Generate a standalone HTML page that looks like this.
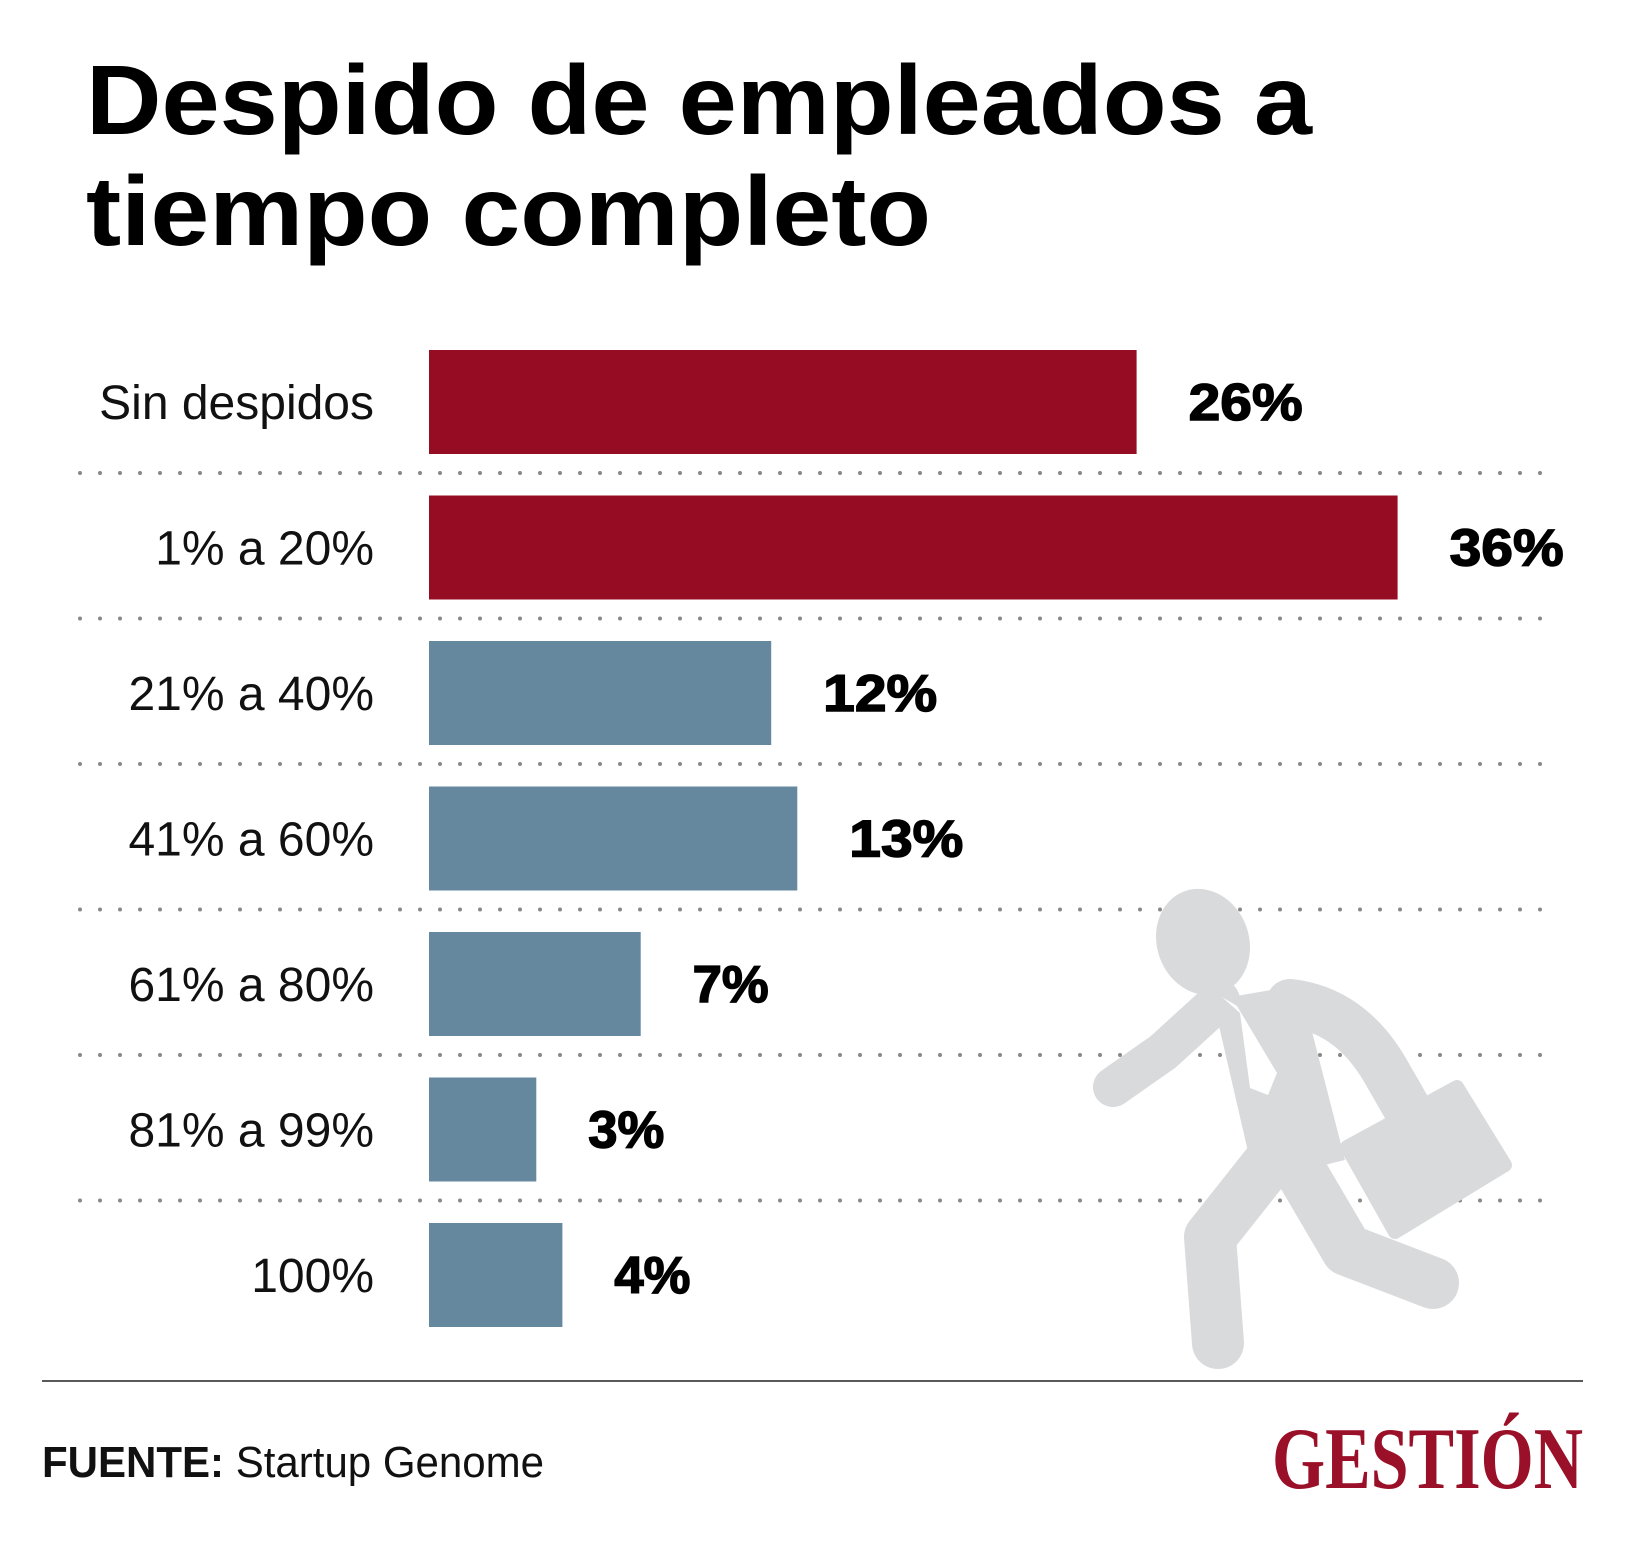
<!DOCTYPE html>
<html><head><meta charset="utf-8"><style>
html,body{margin:0;padding:0;background:#fff;}
svg{display:block;}
</style></head><body>
<svg id="chart" width="1628" height="1557" viewBox="0 0 1628 1557" xmlns="http://www.w3.org/2000/svg" font-family="Liberation Sans, sans-serif">
<rect width="1628" height="1557" fill="#fff"/>
<g font-weight="bold" font-size="98" fill="#000">
<text x="86" y="134" textLength="1226" lengthAdjust="spacingAndGlyphs">Despido de empleados a</text>
<text x="86" y="245" textLength="845" lengthAdjust="spacingAndGlyphs">tiempo completo</text>
</g>
<g id="gridlines"></g>
<g id="figure" fill="#d9dadc">
<ellipse cx="1203" cy="942" rx="46" ry="54" transform="rotate(-20 1203 942)"/>
<polyline points="1220,1000 1163,1052 1113,1087" fill="none" stroke="#d9dadc" stroke-width="40" stroke-linecap="round" stroke-linejoin="round"/>
<polygon points="1213,1000 1300,985 1345,1160 1255,1182"/>
<path d="M1290,1003 Q1350,1010 1385,1070 L1408,1110" fill="none" stroke="#d9dadc" stroke-width="48" stroke-linecap="round"/>
<polyline points="1267,1165 1210,1237 1218,1343" fill="none" stroke="#d9dadc" stroke-width="52" stroke-linecap="round" stroke-linejoin="round"/>
<polyline points="1300,1170 1347,1250 1433,1283" fill="none" stroke="#d9dadc" stroke-width="52" stroke-linecap="round" stroke-linejoin="round"/>
<polygon points="1347,1147 1457,1087 1505,1165 1395,1232" stroke="#d9dadc" stroke-width="14" stroke-linejoin="round"/>
<rect x="1390" y="1092" width="30" height="22" rx="6" transform="rotate(-30 1405 1103)"/>
<polygon points="1222,997 1237,1006 1277,1073 1268,1095 1250,1088 1240,1013" fill="#fff"/>
</g>
<g id="bars"></g>
<line x1="42" y1="1381" x2="1583" y2="1381" stroke="#222" stroke-width="1.5"/>
<text x="42" y="1477" font-size="44" fill="#111" textLength="502" lengthAdjust="spacingAndGlyphs"><tspan font-weight="bold">FUENTE:</tspan> Startup Genome</text>
<text x="1272" y="1488" font-family="Liberation Serif, serif" font-weight="bold" font-size="88" fill="#9a1028" textLength="311" lengthAdjust="spacingAndGlyphs">GESTIÓN</text>
</svg>
<script>
const categories = ["Sin despidos","1% a 20%","21% a 40%","41% a 60%","61% a 80%","81% a 99%","100%"];
const values = [26,36,12,13,7,3,4];
const valueLabels = ["26%","36%","12%","13%","7%","3%","4%"];
const highlight = [true,true,false,false,false,false,false];

const NS = "http://www.w3.org/2000/svg";
const x0 = 429, base = 29, perUnit = 26.1;
const xScale = v => base + perUnit * v;
const rowTop = i => 350 + 145.5 * i;
const barH = 104;
const bars = document.getElementById('bars');
const grid = document.getElementById('gridlines');

for (let i = 0; i < categories.length; i++) {
  const y = rowTop(i);
  const w = xScale(values[i]);
  const r = document.createElementNS(NS, 'rect');
  r.setAttribute('x', x0); r.setAttribute('y', y);
  r.setAttribute('width', w); r.setAttribute('height', barH);
  r.setAttribute('fill', highlight[i] ? '#960d23' : '#65889f');
  
  
  bars.appendChild(r);

  const lab = document.createElementNS(NS, 'text');
  lab.setAttribute('x', 374); lab.setAttribute('y', y + barH / 2 + 17);
  lab.setAttribute('text-anchor', 'end'); lab.setAttribute('font-size', '48');
  lab.setAttribute('fill', '#111');
  lab.textContent = categories[i];
  
  
  bars.appendChild(lab);

  const vl = document.createElementNS(NS, 'text');
  vl.setAttribute('x', x0 + w + 52); vl.setAttribute('y', y + barH / 2 + 18);
  vl.setAttribute('font-size', '52'); vl.setAttribute('font-weight', 'bold');
  vl.setAttribute('fill', '#000');
  vl.setAttribute('stroke', '#000'); vl.setAttribute('stroke-width', '1.5');
  vl.setAttribute('textLength', 38 * valueLabels[i].length);
  vl.setAttribute('lengthAdjust', 'spacingAndGlyphs');
  vl.textContent = valueLabels[i];
  
  
  bars.appendChild(vl);

  if (i < categories.length - 1) {
    const l = document.createElementNS(NS, 'line');
    const ly = y + barH + 19;
    l.setAttribute('x1', 80); l.setAttribute('x2', 1550);
    l.setAttribute('y1', ly); l.setAttribute('y2', ly);
    l.setAttribute('stroke', '#888'); l.setAttribute('stroke-width', '4');
    l.setAttribute('stroke-linecap', 'round'); l.setAttribute('stroke-dasharray', '0 20');
    
    
    grid.appendChild(l);
  }
}
</script>
</body></html>
